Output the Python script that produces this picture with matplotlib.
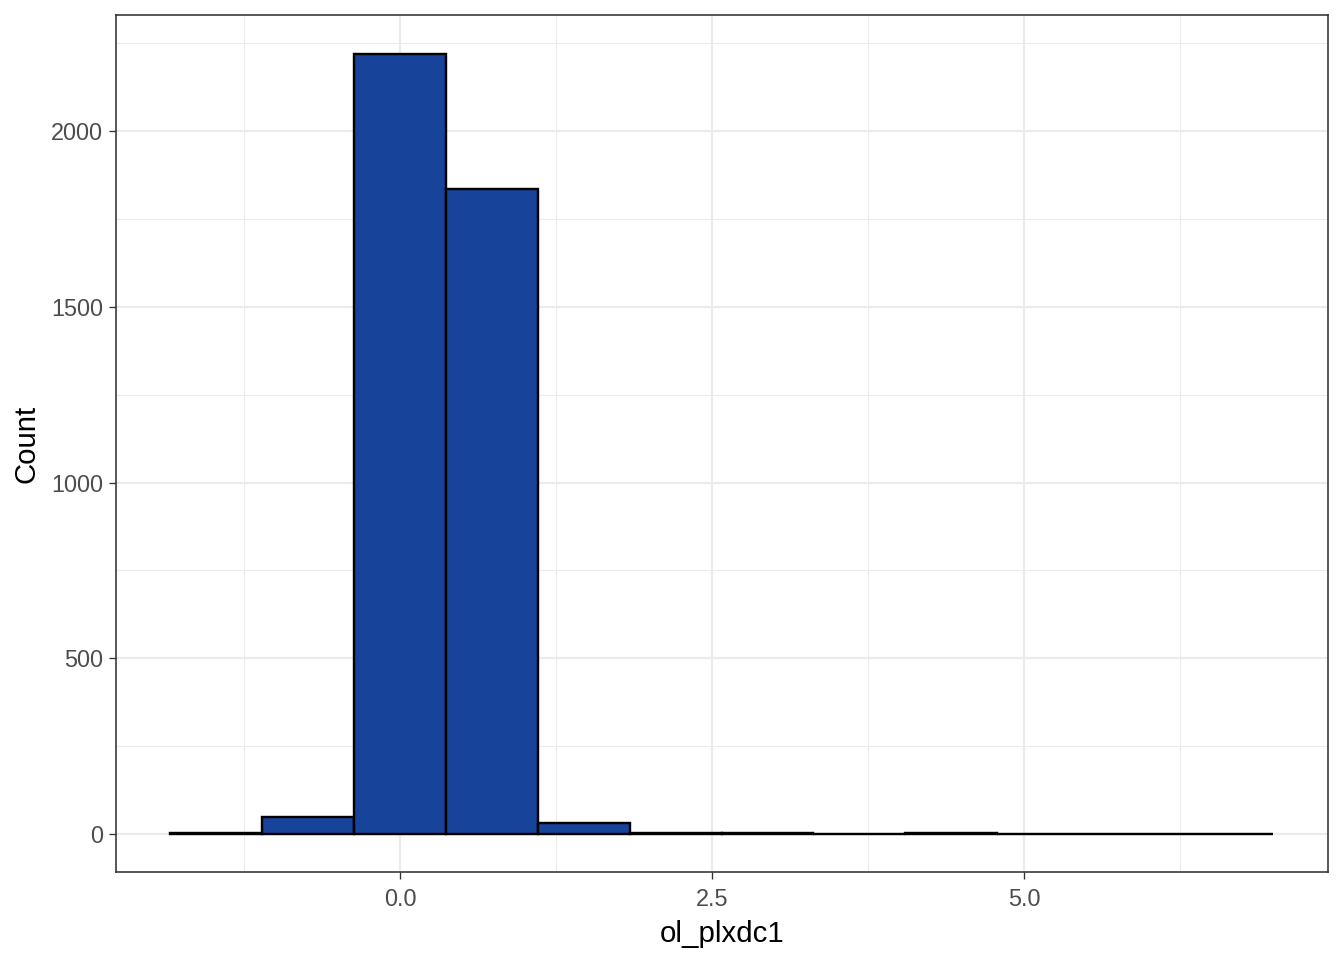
import numpy as np
import matplotlib.pyplot as plt

# histogram of ol_plxdc1 (12 bins)
bin_edges = np.linspace(-1.843, 6.995, 13)
counts = [2, 49, 2220, 1834, 30, 3, 2, 0, 2, 1, 0, 1]

plt.rcParams['font.family'] = ['Liberation Sans', 'DejaVu Sans']

fig = plt.figure(figsize=(7, 5), dpi=192)
ax = fig.add_axes([116 / 1344, 1 - 872 / 960, (1328 - 116) / 1344, (872 - 15) / 960])

widths = np.diff(bin_edges)
ax.bar(bin_edges[:-1], counts, width=widths, align='edge',
       color='#17439b', edgecolor='black', linewidth=0.9, zorder=3)

ax.set_xlim(-2.276, 7.436)
ax.set_ylim(-108, 2330)

ax.set_xticks([0, 2.5, 5.0])
ax.set_xticklabels(['0.0', '2.5', '5.0'])
ax.set_xticks([-1.25, 1.25, 3.75, 6.25], minor=True)
ax.set_yticks([0, 500, 1000, 1500, 2000])
ax.set_yticks([250, 750, 1250, 1750, 2250], minor=True)

ax.grid(which='major', color='#ebebeb', linewidth=0.8, zorder=0)
ax.grid(which='minor', color='#ebebeb', linewidth=0.4, zorder=0)
ax.set_axisbelow(True)

ax.tick_params(which='major', length=2.75, width=0.5, color='#333333',
               labelsize=8.8, labelcolor='#4d4d4d', pad=2.2)
ax.tick_params(axis='x', which='major', pad=3.2)
ax.tick_params(which='minor', length=0)

for s in ax.spines.values():
    s.set_color('#333333')
    s.set_linewidth(0.6)

ax.set_xlabel('ol_plxdc1', fontsize=11, labelpad=3.5)
ax.set_ylabel('Count', fontsize=11, labelpad=4)

fig.savefig('out.png', dpi=192)
